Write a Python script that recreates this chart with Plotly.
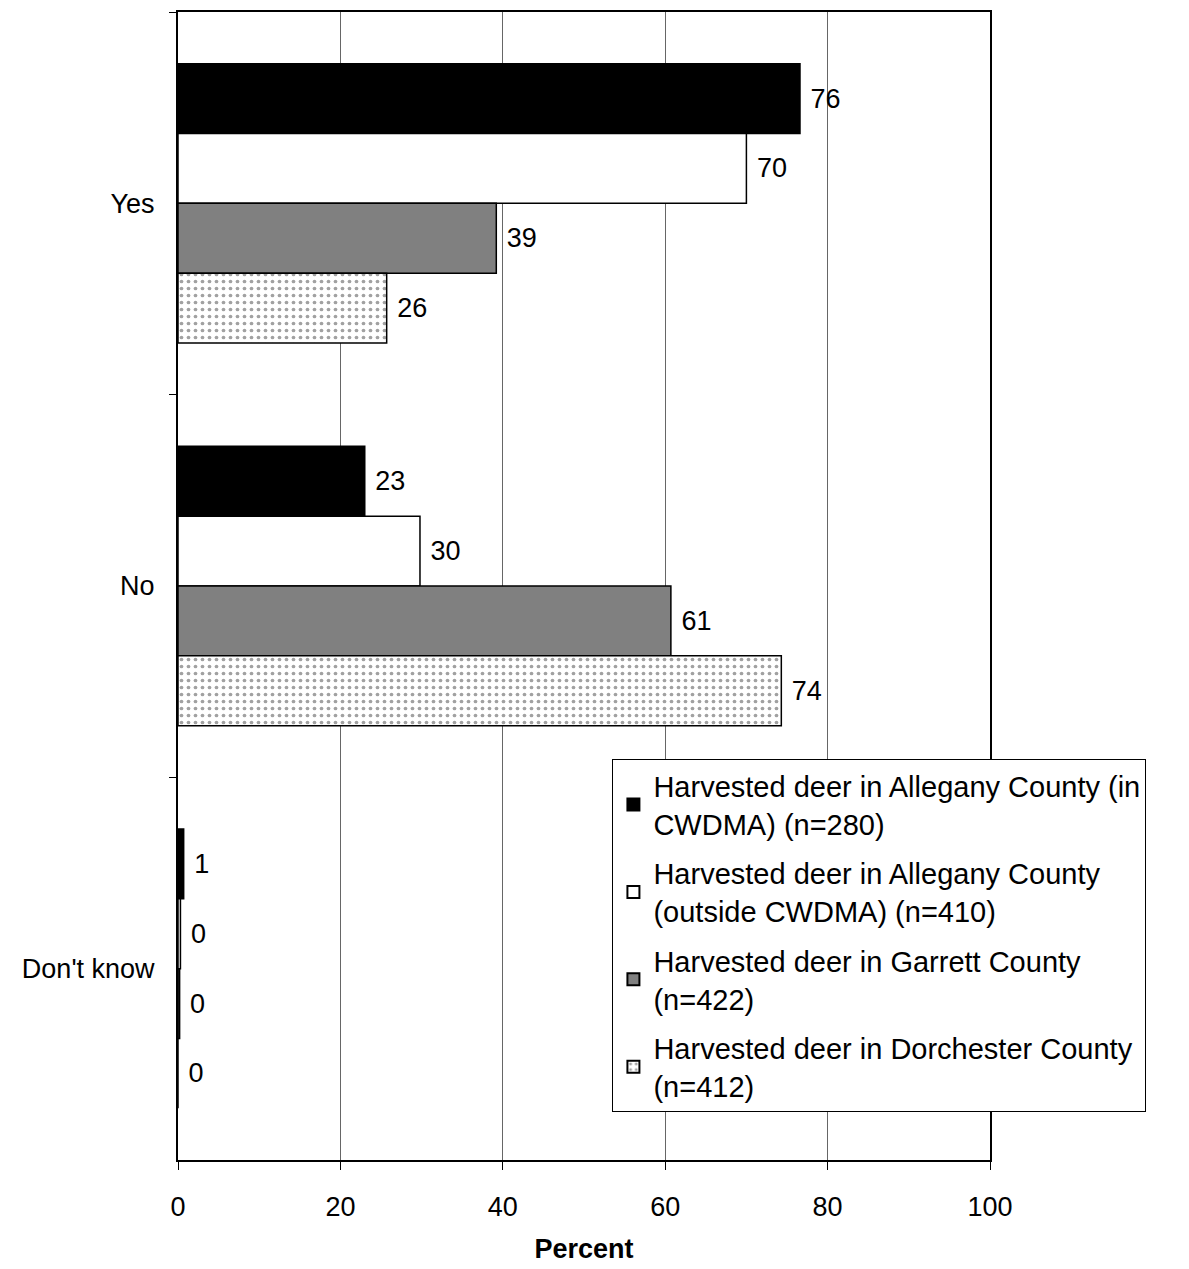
import plotly.graph_objects as go

categories = ["Yes", "No", "Don't know"]
series_names = [
    "Harvested deer in Allegany County (in<br>CWDMA) (n=280)",
    "Harvested deer in Allegany County<br>(outside CWDMA) (n=410)",
    "Harvested deer in Garrett County<br>(n=422)",
    "Harvested deer in Dorchester County<br>(n=412)",
]
allegany_in = [76.6, 23.0, 0.7]
allegany_out = [70.0, 29.8, 0.3]
garrett = [39.2, 60.7, 0.2]
dorchester = [25.7, 74.3, 0.0]
labels_allegany_in = ["76", "23", "1"]
labels_allegany_out = ["70", "30", "0"]
labels_garrett = ["39", "61", "0"]
labels_dorchester = ["26", "74", "0"]
x_ticks = [0, 20, 40, 60, 80, 100]

FONT = "Liberation Sans, Arial, sans-serif"

series = [
    (allegany_in, labels_allegany_in, dict(color="black")),
    (allegany_out, labels_allegany_out, dict(color="white")),
    (garrett, labels_garrett, dict(color="#808080")),
    (dorchester, labels_dorchester,
     dict(color="white", pattern=dict(shape=".", fgcolor="#444444", bgcolor="white", size=7, solidity=0.22))),
]

fig = go.Figure()
for i, ((vals, labs, mk), name) in enumerate(zip(series, series_names)):
    marker = dict(line=dict(color="black", width=1.5))
    marker.update(mk)
    fig.add_trace(go.Bar(
        y=categories, x=vals, orientation="h", name=name,
        legendgroup=f"g{i}",
        marker=marker, text=[" " + t for t in labs], textposition="outside",
        textfont=dict(size=27, color="black", family=FONT),
        cliponaxis=False,
    ))

fig.update_layout(
    width=1181, height=1261,
    margin=dict(l=170, r=199, t=2, b=109),
    paper_bgcolor="white", plot_bgcolor="white",
    barmode="group", bargap=0.27, bargroupgap=0,
    font=dict(family=FONT, size=27, color="black"),
    showlegend=True,
    legend=dict(
        x=0.535, y=0.349, xanchor="left", yanchor="top",
        bgcolor="white", bordercolor="black", borderwidth=1,
        font=dict(size=29, family=FONT, color="black"),
        traceorder="grouped", tracegroupgap=9,
        itemsizing="constant",
    ),
)
fig.update_xaxes(
    range=[0, 100], tickvals=x_ticks, ticktext=[str(t) for t in x_ticks],
    showgrid=True, gridcolor="#666666", gridwidth=1,
    showline=True, linecolor="black", linewidth=2, mirror=True,
    ticks="outside", ticklen=8, tickcolor="black",
    tickfont=dict(size=27, family=FONT), ticklabelstandoff=14,
    title=dict(text="<b>Percent</b>", font=dict(size=27, family=FONT), standoff=18),
    zeroline=False,
)
fig.update_yaxes(
    categoryorder="array", categoryarray=categories, autorange="reversed",
    showgrid=False, tickson="boundaries",
    showline=True, linecolor="black", linewidth=2, mirror=True,
    ticks="outside", ticklen=7, tickcolor="black",
    tickfont=dict(size=27, family=FONT), ticklabelstandoff=16,
)

fig.write_html("out.html")
